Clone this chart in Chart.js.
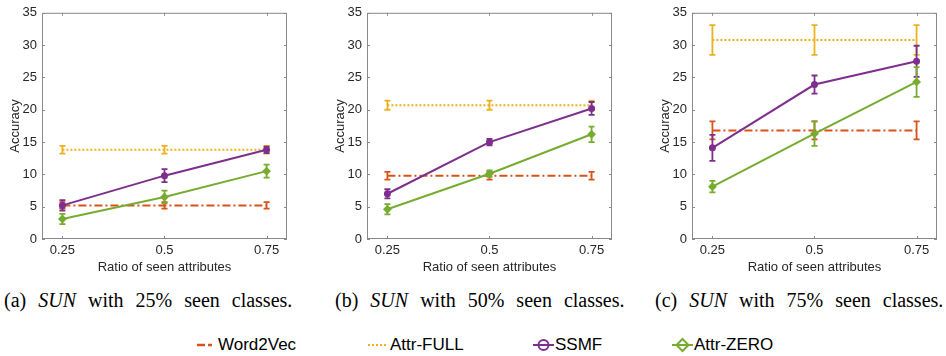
<!DOCTYPE html>
<html>
<head>
<meta charset="utf-8">
<script src="https://cdn.jsdelivr.net/npm/chart.js@4/dist/chart.umd.min.js"></script>
<style>
  body { margin: 0; background: #fff; width: 946px; height: 356px; position: relative; overflow: hidden; }
  .plot { position: absolute; top: 0; height: 280px; }
  .cap { position: absolute; top: 289px; font-family: "Liberation Serif", "Times New Roman", serif; font-size: 20px; line-height: 22px; word-spacing: 7px; color: #000; white-space: nowrap; }
  .leg { position: absolute; top: 335px; font-family: "Liberation Sans", Arial, sans-serif; font-size: 17px; line-height: 20px; color: #000; white-space: nowrap; }
  .sym { position: absolute; top: 335px; }
</style>
</head>
<body>
<div class="plot" style="left:0px;width:300px"><canvas id="chartA"></canvas></div>
<div class="plot" style="left:325px;width:300px"><canvas id="chartB"></canvas></div>
<div class="plot" style="left:650px;width:296px"><canvas id="chartC"></canvas></div>

<div class="cap" style="left:4px">(a) <i>SUN</i> with 25% seen classes.</div>
<div class="cap" style="left:335px">(b) <i>SUN</i> with 50% seen classes.</div>
<div class="cap" style="left:655px">(c) <i>SUN</i> with 75% seen classes.</div>

<svg class="sym" style="left:196px" width="20" height="20"><line x1="1" y1="10" x2="19" y2="10" stroke="#D95319" stroke-width="2.5" stroke-dasharray="8,3,4,3"/></svg>
<div class="leg" style="left:218px">Word2Vec</div>
<svg class="sym" style="left:368px" width="20" height="20"><line x1="0" y1="10" x2="20" y2="10" stroke="#EDB120" stroke-width="2" stroke-dasharray="2,2"/></svg>
<div class="leg" style="left:390px">Attr-FULL</div>
<svg class="sym" style="left:533px" width="22" height="20"><line x1="0" y1="10" x2="21" y2="10" stroke="#7E2F8E" stroke-width="2"/><circle cx="10.5" cy="10" r="5" fill="none" stroke="#7E2F8E" stroke-width="2"/></svg>
<div class="leg" style="left:555px">SSMF</div>
<svg class="sym" style="left:672px" width="22" height="20"><line x1="0" y1="10" x2="21" y2="10" stroke="#77AC30" stroke-width="2"/><polygon points="10.5,4 16.5,10 10.5,16 4.5,10" fill="none" stroke="#77AC30" stroke-width="2"/></svg>
<div class="leg" style="left:694px">Attr-ZERO</div>

<script>
// x positions (ratio of seen attributes) and y ticks
const ratios = [0.25, 0.5, 0.75];
const yTicks = [0, 5, 10, 15, 20, 25, 30, 35];

// (a) 25% seen classes
const word2vecA = [5.2, 5.2, 5.2];
const word2vecErrA = [0.5, 0.5, 0.5];
const attrFullA = [13.8, 13.8, 13.8];
const attrFullErrA = [0.6, 0.6, 0.6];
const ssmfA = [5.2, 9.8, 13.8];
const ssmfErrA = [0.8, 1.0, 0.5];
const attrZeroA = [3.1, 6.5, 10.5];
const attrZeroErrA = [0.8, 1.0, 1.0];

// (b) 50% seen classes
const word2vecB = [9.8, 9.8, 9.8];
const word2vecErrB = [0.6, 0.6, 0.6];
const attrFullB = [20.7, 20.7, 20.7];
const attrFullErrB = [0.7, 0.7, 0.7];
const ssmfB = [7.0, 15.0, 20.2];
const ssmfErrB = [0.7, 0.5, 1.0];
const attrZeroB = [4.6, 10.1, 16.2];
const attrZeroErrB = [0.8, 0.5, 1.2];

// (c) 75% seen classes
const word2vecC = [16.8, 16.8, 16.8];
const word2vecErrC = [1.4, 1.4, 1.4];
const attrFullC = [30.8, 30.8, 30.8];
const attrFullErrC = [2.3, 2.3, 2.3];
const ssmfC = [14.1, 23.9, 27.5];
const ssmfErrC = [2.0, 1.4, 2.4];
const attrZeroC = [8.1, 16.3, 24.3];
const attrZeroErrC = [0.9, 1.9, 2.3];

const colors = {
  word2vec: "#D95319",
  attrFull: "#EDB120",
  ssmf: "#7E2F8E",
  attrZero: "#77AC30",
};

// error bars, drawn right after each dataset so the layering matches
const errorBarPlugin = {
  id: "errorBars",
  afterDatasetDraw(chart, args) {
    const ds = chart.data.datasets[args.index];
    if (!ds.errors) return;
    const yScale = chart.scales.y;
    const ctx = chart.ctx;
    ctx.save();
    ctx.strokeStyle = ds.borderColor;
    ctx.lineWidth = 1.8;
    ctx.setLineDash([]);
    args.meta.data.forEach((pt, j) => {
      const v = ds.data[j].y;
      const e = ds.errors[j];
      const top = yScale.getPixelForValue(v + e);
      const bot = yScale.getPixelForValue(v - e);
      ctx.beginPath();
      ctx.moveTo(pt.x, top);
      ctx.lineTo(pt.x, bot);
      ctx.moveTo(pt.x - 3, top);
      ctx.lineTo(pt.x + 3, top);
      ctx.moveTo(pt.x - 3, bot);
      ctx.lineTo(pt.x + 3, bot);
      ctx.stroke();
    });
    ctx.restore();
  },
};

// box around the plot with inward ticks on every side
const boxPlugin = {
  id: "box",
  afterDraw(chart) {
    const { ctx, chartArea: a, scales } = chart;
    ctx.save();
    ctx.strokeStyle = "#8a8a8a";
    ctx.lineWidth = 1;
    ctx.strokeRect(a.left + 0.5, a.top + 0.5, a.right - a.left - 1, a.bottom - a.top - 1);
    ctx.beginPath();
    ratios.forEach((r) => {
      const x = Math.round(scales.x.getPixelForValue(r)) + 0.5;
      ctx.moveTo(x, a.bottom);
      ctx.lineTo(x, a.bottom - 3);
      ctx.moveTo(x, a.top);
      ctx.lineTo(x, a.top + 3);
    });
    yTicks.forEach((t) => {
      const y = Math.round(scales.y.getPixelForValue(t)) + 0.5;
      ctx.moveTo(a.left, y);
      ctx.lineTo(a.left + 3, y);
      ctx.moveTo(a.right, y);
      ctx.lineTo(a.right - 3, y);
    });
    ctx.stroke();
    ctx.restore();
  },
};

const toPoints = (vals) => vals.map((v, i) => ({ x: ratios[i], y: v }));

const makeDatasets = (w2v, w2vErr, full, fullErr, ssmf, ssmfErr, zero, zeroErr) => [
  {
    label: "Word2Vec",
    data: toPoints(w2v),
    errors: w2vErr,
    borderColor: colors.word2vec,
    borderWidth: 2,
    borderDash: [8, 3, 2, 3],
    pointRadius: 0,
    order: 4,
  },
  {
    label: "Attr-FULL",
    data: toPoints(full),
    errors: fullErr,
    borderColor: colors.attrFull,
    borderWidth: 2,
    borderDash: [2, 2],
    pointRadius: 0,
    order: 3,
  },
  {
    label: "SSMF",
    data: toPoints(ssmf),
    errors: ssmfErr,
    borderColor: colors.ssmf,
    backgroundColor: colors.ssmf,
    borderWidth: 2,
    pointStyle: "circle",
    pointRadius: 2.5,
    order: 2,
  },
  {
    label: "Attr-ZERO",
    data: toPoints(zero),
    errors: zeroErr,
    borderColor: colors.attrZero,
    backgroundColor: colors.attrZero,
    borderWidth: 2,
    pointStyle: "rectRot",
    pointRadius: 3,
    order: 1,
  },
];

const tickFont = { family: "'Liberation Sans', Arial, sans-serif", size: 13 };

const createPanel = (id, datasets, rightPad) => {
  new Chart(document.getElementById(id), {
    type: "line",
    data: { datasets: datasets },
    options: {
      responsive: true,
      maintainAspectRatio: false,
      animation: false,
      layout: { padding: { top: 11, right: rightPad, left: 0, bottom: 0 } },
      plugins: { legend: { display: false }, tooltip: { enabled: false } },
      elements: { line: { tension: 0, fill: false } },
      scales: {
        x: {
          type: "linear",
          min: 0.2,
          max: 0.8,
          afterBuildTicks: (scale) => {
            scale.ticks = ratios.map((r) => ({ value: r }));
          },
          afterFit: (scale) => {
            scale.height = 41;
          },
          grid: { display: false, drawTicks: false },
          border: { display: false },
          ticks: { color: "#262626", font: tickFont, padding: 4, maxRotation: 0, callback: (v) => String(v) },
          title: { display: true, text: "Ratio of seen attributes", color: "#262626", font: tickFont, padding: { top: 0, bottom: 5 } },
        },
        y: {
          min: 0,
          max: 35,
          afterBuildTicks: (scale) => {
            scale.ticks = yTicks.map((t) => ({ value: t }));
          },
          afterFit: (scale) => {
            scale.width = 42;
          },
          grid: { display: false, drawTicks: false },
          border: { display: false },
          ticks: { color: "#262626", font: tickFont, padding: 5 },
          title: { display: true, text: "Accuracy", color: "#262626", font: tickFont, padding: { top: 8, bottom: 0 } },
        },
      },
    },
    plugins: [errorBarPlugin, boxPlugin],
  });
};

createPanel("chartA", makeDatasets(word2vecA, word2vecErrA, attrFullA, attrFullErrA, ssmfA, ssmfErrA, attrZeroA, attrZeroErrA), 13);
createPanel("chartB", makeDatasets(word2vecB, word2vecErrB, attrFullB, attrFullErrB, ssmfB, ssmfErrB, attrZeroB, attrZeroErrB), 13);
createPanel("chartC", makeDatasets(word2vecC, word2vecErrC, attrFullC, attrFullErrC, ssmfC, ssmfErrC, attrZeroC, attrZeroErrC), 9);
</script>
</body>
</html>
